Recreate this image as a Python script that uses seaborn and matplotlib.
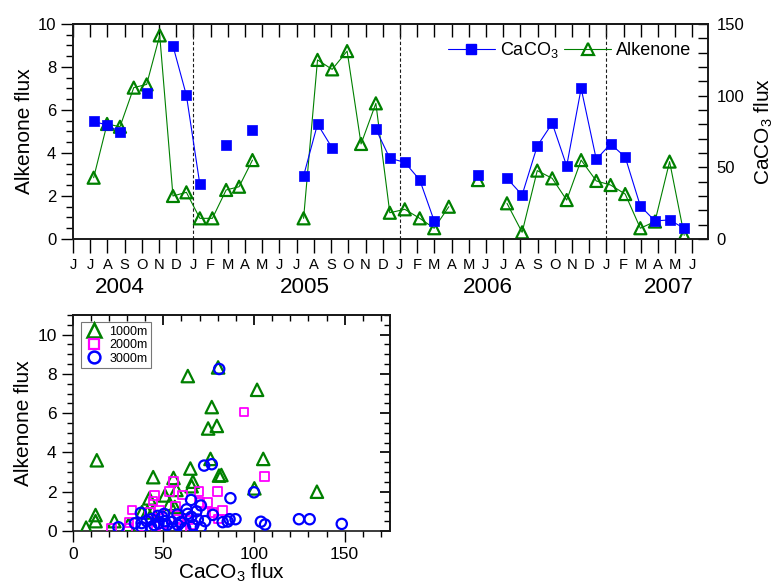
import numpy as np
import pandas as pd
import matplotlib
matplotlib.use("Agg")
import matplotlib.pyplot as plt
import matplotlib.transforms as mtransforms
from matplotlib.lines import Line2D
from matplotlib.ticker import MultipleLocator, NullFormatter
from matplotlib import font_manager
import seaborn as sns

# ---------------- data ----------------
month_labels = list("JJASONDJFMAMJJASONDJFMAMJJASONDJFMAMJ")   # June 2004 .. June 2007
year_labels = ["2004", "2005", "2006", "2007"]

# sample time, months since 1 June 2004
sample_month = [1.20, 1.98, 2.73, 3.53, 4.28, 5.04, 5.81, 6.59, 7.37, 8.10,
                8.90, 9.65, 10.43, 13.40, 14.21, 15.06, 15.93, 16.74, 17.60, 18.41,
                19.28, 20.15, 20.99, 21.84, 23.53, 25.22, 26.10, 26.98, 27.85, 28.69,
                29.53, 30.41, 31.24, 32.09, 32.97, 33.82, 34.67, 35.52]
nan = np.nan
caco3_flux = [82.0, 79.5, 74.7, nan, 101.7, nan, 134.7, 100.2, 38.2, nan,
              65.6, nan, 76.0, 44.0, 80.2, 63.5, nan, nan, 76.7, 56.3,
              53.5, 41.2, 12.6, nan, 44.4, 42.3, 30.7, 64.9, 80.7, 50.9,
              105.1, 55.6, 66.3, 57.2, 23.0, 12.6, 13.3, 7.4]
alkenone_flux = [2.85, 5.35, 5.22, 7.04, 7.19, 9.47, 2.00, 2.17, 0.96, 0.96,
                 2.28, 2.43, 3.67, 0.96, 8.33, 7.89, 8.74, 4.42, 6.31, 1.22,
                 1.38, 0.96, 0.50, 1.50, 2.74, 1.66, 0.31, 3.18, 2.82, 1.81,
                 3.67, 2.70, 2.51, 2.09, 0.50, 0.81, 3.60, 0.17]

# 2000 m trap (CaCO3 flux, alkenone flux)
caco3_2000 = [21.4, 30.5, 31.0, 32.6, 42.5, 44.4, 45.2, 47.9, 53.4, 55.5,
              56.8, 58.5, 60.6, 63.8, 69.6, 69.8, 73.1, 74.2, 77.1, 80.0,
              80.4, 82.5, 94.6, 105.8, 50.0, 66.0, 38.0, 46.0, 60.0]
alk_2000 = [0.14, 0.14, 0.42, 1.07, 0.95, 1.52, 1.82, 1.07, 2.00, 2.52,
            1.25, 0.60, 1.83, 0.55, 2.00, 1.45, 0.96, 1.45, 0.93, 2.00,
            0.62, 1.05, 6.05, 2.78, 0.35, 0.30, 0.20, 0.25, 0.15]
# 3000 m trap
caco3_3000 = [25.2, 34.3, 37.6, 38.0, 38.0, 40.8, 43.4, 43.3, 46.9, 47.3,
              49.3, 50.4, 50.7, 54.8, 55.2, 57.8, 59.6, 62.0, 62.8, 63.4,
              65.3, 65.4, 66.5, 68.2, 69.0, 70.7, 70.7, 72.5, 73.0, 76.7,
              77.3, 80.8, 82.7, 85.5, 86.5, 87.0, 89.8, 100.0, 103.8, 106.1,
              124.8, 130.7, 148.4, 52.0, 58.0, 45.0]
alk_3000 = [0.19, 0.39, 0.92, 0.19, 0.40, 0.50, 0.60, 0.19, 0.77, 0.39,
            0.73, 0.87, 0.50, 0.46, 0.12, 0.84, 0.45, 0.15, 1.10, 0.87,
            1.58, 0.72, 0.30, 1.00, 0.58, 1.30, 0.19, 3.33, 0.50, 3.40,
            0.82, 8.25, 0.45, 0.48, 0.60, 1.67, 0.60, 1.97, 0.47, 0.33,
            0.60, 0.60, 0.36, 0.30, 0.30, 0.30]

# ---------------- style ----------------
sns.set_theme(style="ticks")
plt.rcParams['font.family'] = ['Liberation Sans', 'DejaVu Sans']
plt.rcParams['mathtext.fontset'] = 'custom'
plt.rcParams['mathtext.rm'] = 'Liberation Sans'
plt.rcParams['mathtext.it'] = 'Liberation Sans:italic'
plt.rcParams['mathtext.default'] = 'regular'
for key in ('text.color', 'axes.labelcolor', 'xtick.color', 'ytick.color', 'axes.edgecolor'):
    plt.rcParams[key] = 'black'

names = {f.name for f in font_manager.fontManager.ttflist}
narrow = 'Liberation Sans Narrow' if 'Liberation Sans Narrow' in names else 'Liberation Sans'
narrow_scale = 1.0 if narrow == 'Liberation Sans Narrow' else 0.85

BLUE, GREEN, MAGENTA = '#0000FF', '#008000', '#FF00FF'

fig = plt.figure(figsize=(7.75, 5.84), dpi=100)
ax1 = fig.add_axes([0.0942, 0.5908, 0.8193, 0.3681])
ax2 = ax1.twinx()
ax3 = fig.add_axes([0.0938, 0.0908, 0.4094, 0.3698])


def segment_ids(x, y, maxgap=1.2):
    ids, s, px, pv = [], 0, None, False
    for xi, yi in zip(x, y):
        valid = not np.isnan(yi)
        if valid:
            if not (pv and xi - px <= maxgap):
                s += 1
            ids.append(s)
        else:
            ids.append(np.nan)
        pv, px = valid, xi
    return ids


ts = pd.DataFrame({'month': sample_month, 'caco3': caco3_flux, 'alk': alkenone_flux})
ts['seg_c'] = segment_ids(ts['month'], ts['caco3'])
ts['seg_a'] = segment_ids(ts['month'], ts['alk'])
dc = ts.dropna(subset=['caco3'])
da = ts.dropna(subset=['alk'])
pairs = ts.dropna(subset=['caco3', 'alk'])

# ---- top panel: time series ----
sns.lineplot(data=da, x='month', y='alk', units='seg_a', estimator=None, sort=True,
             color=GREEN, lw=0.8, ax=ax1, legend=False)
sns.scatterplot(data=da, x='month', y='alk', marker='^', s=75, facecolor='none',
                edgecolor=GREEN, linewidth=1.6, ax=ax1, legend=False, zorder=3)
sns.lineplot(data=dc, x='month', y='caco3', units='seg_c', estimator=None, sort=True,
             color=BLUE, lw=0.8, ax=ax2, legend=False)
sns.scatterplot(data=dc, x='month', y='caco3', marker='s', s=50, color=BLUE,
                edgecolor=BLUE, linewidth=0.5, ax=ax2, legend=False, zorder=3)

for k in range(1, len(year_labels)):
    ax1.axvline(12 * k - 5, color='k', ls=(0, (3, 2)), lw=0.8, zorder=1)

ax1.set_xlim(0, 36.9)
ax1.set_ylim(0, 10)
ax2.set_ylim(0, 150)
ax1.set_xticks(range(len(month_labels)))
ax1.set_xticklabels(month_labels, fontfamily=narrow, fontsize=12.5 * narrow_scale)
ax1.tick_params(axis='x', direction='out', length=10, width=1, pad=4)
ax1.yaxis.set_major_locator(MultipleLocator(2))
ax1.yaxis.set_minor_locator(MultipleLocator(0.5))
ax1.tick_params(axis='y', which='major', direction='out', length=9, width=1, labelsize=12, pad=3)
ax1.tick_params(axis='y', which='minor', direction='out', length=5, width=1)
ax2.yaxis.set_major_locator(MultipleLocator(50))
ax2.yaxis.set_minor_locator(MultipleLocator(10))
ax2.tick_params(axis='y', which='both', direction='in', length=7, width=1, labelsize=12, pad=6)
secx = ax1.secondary_xaxis('top')
secx.set_xticks(range(len(month_labels)))
secx.xaxis.set_major_formatter(NullFormatter())
secx.tick_params(direction='in', length=9, width=1)
ax1.set_xlabel('')
ax1.set_ylabel('Alkenone flux', fontsize=15, labelpad=3)
ax2.set_ylabel('CaCO$_3$ flux', fontsize=15, labelpad=6)

blend = mtransforms.blended_transform_factory(ax1.transData, ax1.transAxes)
for yl, xm in zip(year_labels, [2.7, 13.5, 24.1, 34.6]):
    ax1.text(xm, -0.225, yl, transform=blend, ha='center', va='center',
             fontsize=19 * narrow_scale, fontfamily=narrow)

h_c = Line2D([], [], color=BLUE, lw=0.8, marker='s', ms=7, mfc=BLUE, mec=BLUE)
h_a = Line2D([], [], color=GREEN, lw=0.8, marker='^', ms=9, mfc='none', mec=GREEN, mew=1.6)
ax2.legend([h_c, h_a], ['CaCO$_3$', 'Alkenone'], ncol=2, frameon=False, fontsize=13,
           loc='upper right', bbox_to_anchor=(1.0, 1.0), handlelength=2.6,
           columnspacing=0.3, handletextpad=0.3, borderaxespad=0.5)

for ax in (ax1, ax2):
    for sp in ax.spines.values():
        sp.set_linewidth(1.2)
        sp.set_color('k')

# ---- bottom panel: scatter ----
sns.scatterplot(x=pairs['caco3'], y=pairs['alk'],
                marker='^', s=80, facecolor='none', edgecolor=GREEN, linewidth=1.6,
                ax=ax3, legend=False, zorder=3)
sns.scatterplot(x=caco3_2000, y=alk_2000, marker='s', s=38, facecolor='none',
                edgecolor=MAGENTA, linewidth=1.3, ax=ax3, legend=False, zorder=4)
sns.scatterplot(x=caco3_3000, y=alk_3000, marker='o', s=55, facecolor='none',
                edgecolor=BLUE, linewidth=1.6, ax=ax3, legend=False, zorder=5)
ax3.set_xlim(0, 175)
ax3.set_ylim(0, 11)
ax3.xaxis.set_major_locator(MultipleLocator(50))
ax3.xaxis.set_minor_locator(MultipleLocator(10))
ax3.yaxis.set_major_locator(MultipleLocator(2))
ax3.yaxis.set_minor_locator(MultipleLocator(0.5))
ax3.tick_params(which='major', direction='out', length=8, width=1, labelsize=12.5)
ax3.tick_params(which='minor', direction='out', length=4, width=1)
sx = ax3.secondary_xaxis('top')
sx.xaxis.set_major_locator(MultipleLocator(50))
sx.xaxis.set_minor_locator(MultipleLocator(10))
sx.xaxis.set_major_formatter(NullFormatter())
sx.tick_params(which='major', direction='in', length=7)
sx.tick_params(which='minor', direction='in', length=4)
sy = ax3.secondary_yaxis('right')
sy.yaxis.set_major_locator(MultipleLocator(2))
sy.yaxis.set_minor_locator(MultipleLocator(0.5))
sy.yaxis.set_major_formatter(NullFormatter())
sy.tick_params(which='major', direction='in', length=7)
sy.tick_params(which='minor', direction='in', length=4)
for sp in ax3.spines.values():
    sp.set_linewidth(1.2)
    sp.set_color('k')
ax3.set_xlabel('CaCO$_3$ flux', fontsize=15, labelpad=0)
ax3.set_ylabel('Alkenone flux', fontsize=15, labelpad=3)

lh = [Line2D([], [], ls='none', marker='^', ms=10, mfc='none', mec=GREEN, mew=1.8),
      Line2D([], [], ls='none', marker='s', ms=7, mfc='none', mec=MAGENTA, mew=1.6),
      Line2D([], [], ls='none', marker='o', ms=8.5, mfc='none', mec=BLUE, mew=1.8)]
leg = ax3.legend(lh, ['1000m', '2000m', '3000m'], loc='upper left',
                 bbox_to_anchor=(0.025, 0.968), borderaxespad=0, fontsize=9,
                 frameon=True, fancybox=False, edgecolor='#777777', framealpha=1,
                 handlelength=1.5, handletextpad=0.5, labelspacing=0.12, borderpad=0.3)
leg.get_frame().set_linewidth(0.8)

fig.savefig('out.png', dpi=100)
